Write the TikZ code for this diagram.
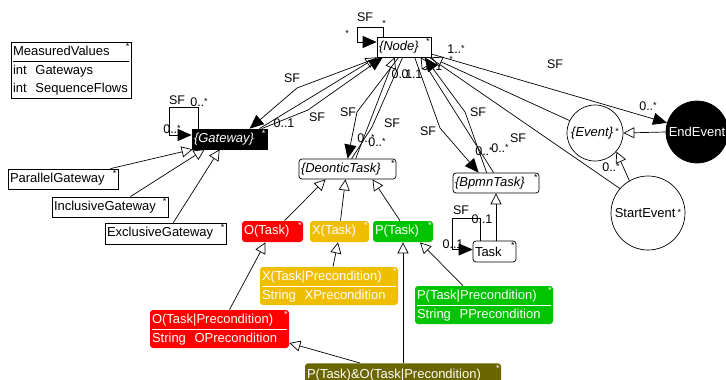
\documentclass[tikz,border=0pt]{standalone}
\usepackage{fontspec}
\setmainfont{Liberation Sans}
\usetikzlibrary{arrows.meta}
\definecolor{oblig}{HTML}{FF0000}
\definecolor{prohib}{HTML}{F0BE00}
\definecolor{permit}{HTML}{00C400}
\definecolor{combi}{HTML}{6B6600}
\newcommand{\clsf}{\fontsize{13}{18}\selectfont}
\newcommand{\lblf}{\fontsize{12.5}{14}\selectfont}
\newcommand{\astf}{\fontsize{9}{9}\selectfont}
\newcommand{\st}{\raisebox{2pt}{\astf *}}
\newcommand{\twopart}[3]{\begin{tabular}{@{}p{#1}@{}}#2\\\hline #3\end{tabular}}
\setlength{\arrayrulewidth}{0.8pt}
\tikzset{
  cls/.style={draw, fill=white, minimum height=20pt, inner xsep=2pt, inner ysep=0pt,
    align=left, text width=#1, font=\clsf},
  deon/.style={cls=#1, draw=none, text=white, rounded corners=3pt, minimum height=21pt, ast=white},
  ast/.style={label={[anchor=north east, inner sep=1.5pt, font=\astf, text=#1]north east:*}},
  ast/.default=black,
  evt/.style={circle, draw, fill=white, inner sep=0pt, font=\clsf},
}

\begin{document}
\begin{tikzpicture}[x=1pt, y=-1pt, line width=0.7pt,
    gen/.style={-{Triangle[open, fill=white, length=11pt, width=11pt]}},
    nav/.style={-{Triangle[length=14pt, width=12pt]}},
    lbl/.style={font=\lblf, inner sep=0pt}]
  \useasboundingbox (0,0) rectangle (726,380);
  \clip (0,0) rectangle (726,380);

  % classes
  \node[cls=116pt, minimum height=56pt, ast] (mv) at (71,70)
    {\begin{tabular}{@{}p{116pt}@{}}MeasuredValues\\\hline int\ \ Gateways\\int\ \ SequenceFlows\end{tabular}};
  \node[cls=71pt, fill=black, text=white, ast=white] (gw) at (229.5,139) {\textit{\{Gateway\}}};
  \node[cls=106pt, ast] (par) at (63,179) {ParallelGateway};
  \node[cls=112pt, ast] (inc) at (110,207) {InclusiveGateway};
  \node[cls=117pt, minimum height=21pt, ast] (exc) at (165.5,233.5) {ExclusiveGateway};
  \node[cls=50pt, ast] (nd) at (404,47) {\textit{\{Node\}}};
  \node[cls=93pt, rounded corners=3pt, ast] (dt) at (347.5,169) {\textit{\{DeonticTask\}}};
  \node[cls=82pt, rounded corners=3pt, ast] (bt) at (496,183) {\textit{\{BpmnTask\}}};
  \node[cls=39pt, rounded corners=3pt, minimum height=21pt, ast] (task) at (494.5,251.5) {Task};
  \node[deon=57pt, fill=oblig] (otask) at (272.5,231.5) {O(Task)};
  \node[deon=55pt, fill=prohib] (xtask) at (339.5,231.5) {X(Task)};
  \node[deon=56pt, fill=permit] (ptask) at (403,231.5) {P(Task)};
  \node[deon=134pt, fill=prohib, minimum height=38pt] (xtaskp) at (329,286)
    {\twopart{134pt}{X(Task|Precondition)}{String\ \ XPrecondition}};
  \node[deon=134pt, fill=permit, minimum height=38pt] (ptaskp) at (484,305)
    {\twopart{134pt}{P(Task|Precondition)}{String\ \ PPrecondition}};
  \node[deon=135pt, fill=oblig, minimum height=38pt] (otaskp) at (219.5,329)
    {\twopart{135pt}{O(Task|Precondition)}{String\ \ OPrecondition}};
  \node[deon=192pt, fill=combi, minimum height=24pt, anchor=north] (potaskp) at (403,363)
    {P(Task)\&O(Task|Precondition)};
  \node[evt, minimum size=56pt] (ev) at (595,133) {\textit{\{Event\}}\,\st};
  \node[evt, fill=black, text=white, minimum size=62pt] (ee) at (697,132) {EndEvent};
  \node[evt, minimum size=74pt] (se) at (648,213) {StartEvent\,\st};

  % gateways
  \draw[gen] ([xshift=-8pt]par.north east) -- ([xshift=1pt]gw.south west);
  \draw[gen] ([xshift=-38pt]inc.north east) -- ([xshift=13pt]gw.south west);
  \draw[gen] ([xshift=-53pt]exc.north east) -- ([xshift=28pt]gw.south west);
  \draw[nav] ([xshift=7pt]gw.north west) |- (169,107) |- ([yshift=4pt]gw.west);
  \draw[gen] ([xshift=-8pt]gw.north east) -- (nd.south west);
  \draw[nav] ([xshift=2pt]nd.south west) -- (297,88) -- ([xshift=58pt]gw.north west);
  \draw[nav] ([xshift=70pt]gw.north west) -- (308,110) -- ([xshift=6pt]nd.south west);
  \node[lbl] (sfgwl) at (177,100) {SF};
  \node[lbl] (mgwl1) at (199,102) {0..\st};
  \node[lbl] (mgwl2) at (172,129) {0..\st};
  \node[lbl] (sfgw1) at (292,78) {SF};
  \node[lbl] (sfgw2) at (317,117) {SF};
  \node[lbl] (mgw2) at (284,123) {0..1};

  % node
  \draw[nav] ([xshift=7pt]nd.north west) |- (357,27) |- ([yshift=5pt]nd.west);
  \node[lbl] (sfnl) at (365,17) {SF};
  \node[lbl] (mnl1) at (347,34) {\st};
  \node[lbl] (mnl2) at (384,24) {\st};
  \node[lbl] (mnb1) at (402,74) {0..1};
  \node[lbl] (mnb2) at (412,74) {0..1};
  \node[lbl] (mnr1) at (432,66) {0..1};
  \node[lbl] (mnr2) at (451,60) {\st};
  \node[lbl] (mnr3) at (456,49) {1..\st};

  % deontic tasks
  \draw[gen] ([xshift=57pt]dt.north west) -- ([xshift=18pt]nd.south west);
  \draw[nav] ([xshift=22pt]nd.south west) -- (357,112) -- ([xshift=49pt]dt.north west);
  \draw ([xshift=53pt]dt.north west) -- (372,127) -- ([xshift=26pt]nd.south west);
  \node[lbl] (sfdt1) at (348,112) {SF};
  \node[lbl] (sfdt2) at (392,123) {SF};
  \node[lbl] (mdt1) at (366,138) {0..\st};
  \node[lbl] (mdt2) at (377,142) {0..\st};
  \draw[gen] ([xshift=12pt]otask.north) -- ([xshift=-22pt]dt.south);
  \draw[gen] ([xshift=1pt]xtask.north) -- ([xshift=-2pt]dt.south);
  \draw[gen] ([xshift=-3pt]ptask.north) -- ([xshift=25pt]dt.south);
  \draw[gen] ([xshift=10pt]otaskp.north) -- ([xshift=-7pt]otask.south);
  \draw[gen] ([xshift=4pt]xtaskp.north) -- ([xshift=-1.5pt]xtask.south);
  \draw[gen] ([xshift=-21pt]ptaskp.north) -- ([xshift=17pt]ptask.south);
  \draw[gen] (potaskp.north) -- (ptask.south);
  \draw[gen] ([xshift=-43pt]potaskp.north) -- ([yshift=-14pt]otaskp.east);

  % bpmn tasks
  \draw[gen] ([xshift=41pt]bt.north west) -- ([xshift=44pt]nd.south west);
  \draw[nav] ([xshift=38pt]nd.south west) -- (440,128) -- ([xshift=26pt]bt.north west);
  \draw[nav] ([xshift=34pt]bt.north west) -- (465,112) -- ([xshift=48pt]nd.south west);
  \node[lbl] (sfbt1) at (428,131) {SF};
  \node[lbl] (sfbt2) at (478,112) {SF};
  \node[lbl] (mbt1) at (484,151) {0..\st};
  \node[lbl] (mbt2) at (500,148) {0..\st};
  \draw[nav] ([xshift=8pt]task.north west) |- (452,218) |- ([yshift=2pt]task.west);
  \draw[gen] (task.north -| bt.south) -- (bt.south);
  \node[lbl] (sftl) at (461,210) {SF};
  \node[lbl] (mtl1) at (482,219) {0..1};
  \node[lbl] (mtl2) at (453,244) {0..1};

  % events
  \draw[nav] ([yshift=-7pt]nd.east) -- (ee.163);
  \draw[gen] (ev.154) -- (nd.south east);
  \draw (se.139) -- ([xshift=-2pt]nd.south east);
  \draw[gen] (ee.west) -- (ev.east);
  \node[lbl] (sfee) at (555,64) {SF};
  \node[lbl] (mee) at (648,106) {0..\st};
  \node[lbl] (sfse) at (518,138) {SF};
  \node[lbl] (mse) at (611,167) {0..\st};
  \draw[gen] (se.120) -- (ev.319);
\end{tikzpicture}
\end{document}
